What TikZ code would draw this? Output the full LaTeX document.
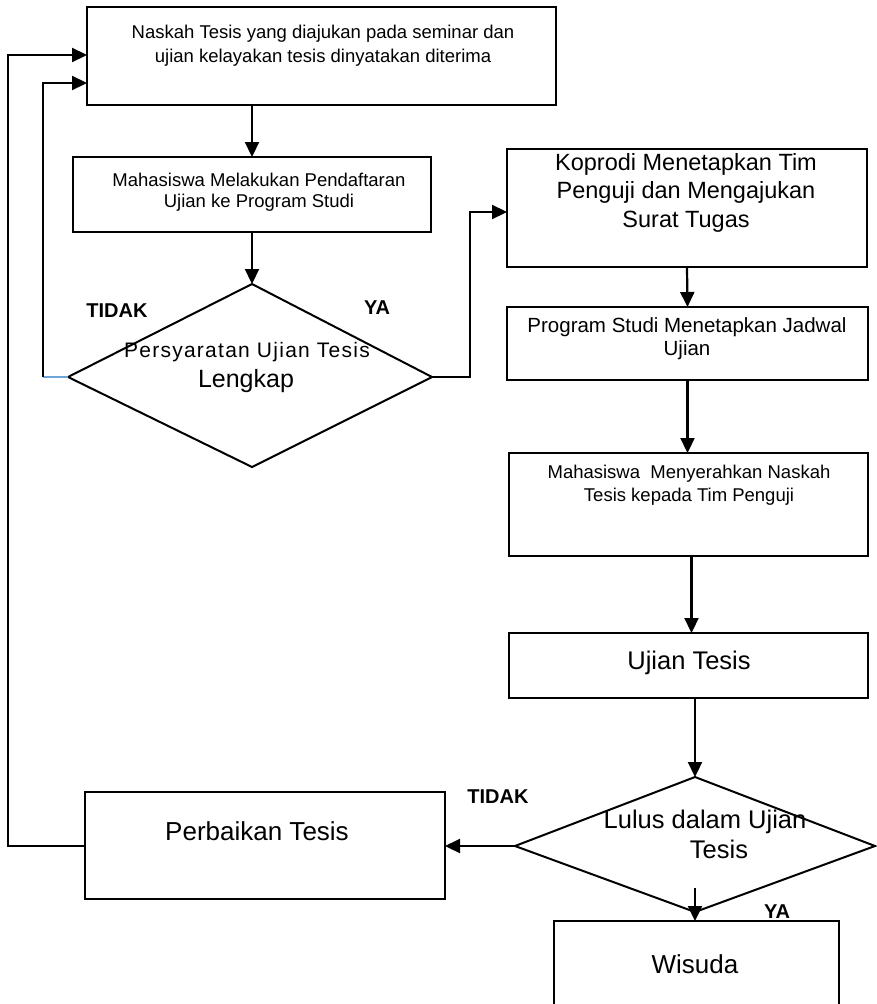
\documentclass[tikz,border=0pt]{standalone}
\usepackage{fontspec}
\setmainfont{Liberation Sans}
\newfontfamily\spacedfont[LetterSpace=6]{Liberation Sans}
\usetikzlibrary{arrows.meta}
\definecolor{loopblue}{RGB}{110,165,215}
\begin{document}
\begin{tikzpicture}[x=1pt,y=-1pt,
  box/.style={draw,line width=2pt,inner sep=0pt,outer sep=0pt},
  conn/.style={line width=2.2pt},
  arr/.style={conn,-{Triangle[length=15pt,width=14pt]}},
  lbl/.style={anchor=base,inner sep=0pt},
  fs/.style={font=\fontsize{#1}{#1}\selectfont},
  fb/.style={font=\fontsize{#1}{#1}\selectfont\bfseries}]
\useasboundingbox (0,0) rectangle (877,1004);

% boxes
\node[box,minimum width=469pt,minimum height=98pt] (b1) at (321.5,56) {};
\node[box,minimum width=358pt,minimum height=75pt] (b2) at (252,194.5) {};
\node[box,minimum width=360pt,minimum height=118pt] (b3) at (687,208) {};
\node[box,minimum width=361pt,minimum height=73pt] (b4) at (687.5,343.5) {};
\node[box,minimum width=359pt,minimum height=103pt] (b5) at (688.5,504.5) {};
\node[box,minimum width=359pt,minimum height=65pt] (b6) at (688.5,665.5) {};
\node[box,minimum width=360pt,minimum height=107pt] (bp) at (265,845.5) {};
\node[box,minimum width=285pt,minimum height=109pt] (bw) at (696.5,975.5) {};

% diamonds
\coordinate (d1t) at (252,284);
\coordinate (d1l) at (68,377);
\coordinate (d1r) at (432,377);
\coordinate (d1b) at (252,467);
\draw[line width=2pt,line join=miter] (d1t) -- (d1r) -- (d1b) -- (d1l) -- cycle;
\coordinate (d2t) at (695,777);
\coordinate (d2l) at (515,846);
\coordinate (d2r) at (875,846);
\coordinate (d2b) at (695,912);
\draw[line width=2pt,line join=miter] (d2t) -- (d2r) -- (d2b) -- (d2l) -- cycle;

% helper coordinates
\coordinate (c1) at (252,0);
\coordinate (k1) at (43,377);
\coordinate (k2) at (43,83);
\coordinate (r1) at (470,377);
\coordinate (r2) at (470,212);
\coordinate (o1) at (8,846);
\coordinate (o2) at (8,55);
\coordinate (s1) at (695,888);

% connectors
\draw[arr] (c1 |- b1.south) -- (c1 |- b2.north);
\draw[arr] (c1 |- b2.south) -- (d1t);
\draw[conn,loopblue] (d1l) -- (k1);
\draw[arr] (k1) -- (k2) -- (b1.west |- k2);
\draw[arr] (d1r) -- (r1) -- (r2) -- (b3.west |- r2);
\draw[arr] (b3.south) -- (b4.north);
\draw[arr] (b4.south) -- (b4.south |- b5.north);
\draw[arr] (b5.south) ++(3,0) coordinate (c5) -- (c5 |- b6.north);
\draw[arr] (b6.south -| d2t) -- (d2t);
\draw[arr] (d2l) -- (bp.east |- d2l);
\draw[arr] (bp.west |- o1) -- (o1) -- (o2) -- (b1.west |- o2);
\draw[arr] (s1) -- (s1 |- bw.north);

% texts
\node[lbl,fs=18.5] (t1a) at (323,38) {Naskah Tesis yang diajukan pada seminar dan};
\node[lbl,fs=18.5] (t1b) at (323,62) {ujian kelayakan tesis dinyatakan diterima};
\node[lbl,fs=18.5] (t2a) at (259,186) {Mahasiswa Melakukan Pendaftaran};
\node[lbl,fs=18.5] (t2b) at (259,207) {Ujian ke Program Studi};
\node[lbl,font=\fontsize{21}{21}\spacedfont] (td1a) at (247,357) {Persyaratan Ujian Tesis};
\node[lbl,fs=25] (td1b) at (246,387) {Lengkap};
\node[lbl,fb=20] (tno1) at (117,317) {TIDAK};
\node[lbl,fb=20] (tya1) at (377,314) {YA};
\node[lbl,fs=23.5] (t3a) at (686,170) {Koprodi Menetapkan Tim};
\node[lbl,fs=23.5] (t3b) at (686,198) {Penguji dan Mengajukan};
\node[lbl,fs=23.5] (t3c) at (686,227) {Surat Tugas};
\node[lbl,fs=20.5] (t4a) at (687,332) {Program Studi Menetapkan Jadwal};
\node[lbl,fs=20.5] (t4b) at (687,355) {Ujian};
\node[lbl,fs=18.5] (t5a) at (689,478) {Mahasiswa\ \ Menyerahkan Naskah};
\node[lbl,fs=18.5] (t5b) at (689,501) {Tesis kepada Tim Penguji};
\node[lbl,fs=25.5] (t6) at (689,669) {Ujian Tesis};
\node[lbl,fs=25.5] (td2a) at (705,828) {Lulus dalam Ujian};
\node[lbl,fs=25.5] (td2b) at (719,858) {Tesis};
\node[lbl,fb=20] (tno2) at (498,803) {TIDAK};
\node[lbl,fb=20] (tya2) at (777,918) {YA};
\node[lbl,fs=26] (tp) at (257,840) {Perbaikan Tesis};
\node[lbl,fs=26] (tw) at (695,973) {Wisuda};
\end{tikzpicture}
\end{document}
